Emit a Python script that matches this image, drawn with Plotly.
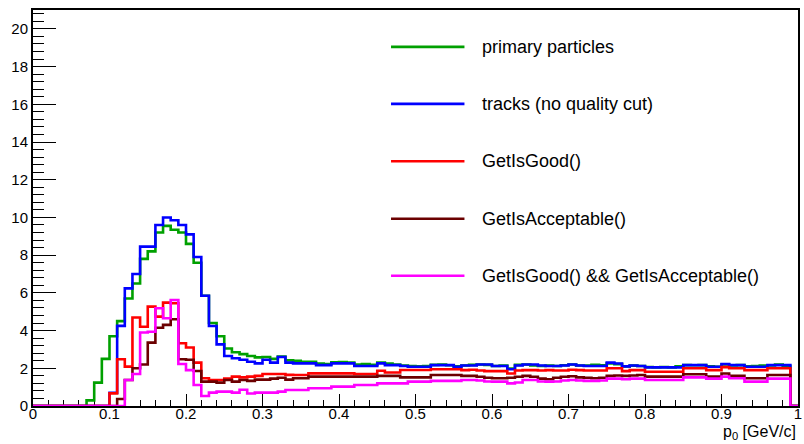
import plotly.graph_objects as go

# Momentum binning: 100 bins of 0.01 GeV/c from 0 to 1
bin_width = 0.01
n_bins = 100
bin_edges = [round(i * bin_width, 4) for i in range(n_bins + 1)]

primary = [
    0, 0, 0, 0, 0, 0, 0, 0.3, 1.24, 2.5,
    3.7, 4.5, 5.7, 6.5, 7.8, 8.2, 9.2, 9.55, 9.35, 9.2,
    8.6, 7.6, 5.85, 4.4, 3.7, 3.05, 2.85, 2.75, 2.65, 2.58,
    2.6, 2.5, 2.62, 2.42, 2.4, 2.35, 2.35, 2.25, 2.22, 2.32,
    2.33, 2.3, 2.2, 2.22, 2.18, 2.3, 2.25, 2.2, 2.14, 2.12,
    2.1, 2.12, 2.18, 2.2, 2.16, 2.1, 2.15, 2.18, 2.2, 2.18,
    2.12, 2.14, 1.98, 2.18, 2.2, 2.15, 2.12, 2.14, 2.12, 2.16,
    2.2, 2.15, 2.14, 2.18, 2.16, 2.26, 2.22, 2.1, 2.14, 2.12,
    2.06, 2.05, 2.06, 2.05, 2.1, 2.17, 2.16, 2.17, 2.1, 2.08,
    2.2, 2.15, 2.17, 2.1, 2.12, 2.14, 2.15, 2.2, 2.12, 0,
]

tracks = [
    0, 0, 0, 0, 0, 0, 0, 0, 0, 0,
    0.7, 4.25, 6.24, 7.0, 8.45, 8.45, 9.6, 10.0, 9.85, 9.6,
    9.1, 7.9, 5.85, 4.24, 3.27, 2.65, 2.53, 2.45, 2.35, 2.26,
    2.45, 2.3, 2.6, 2.3, 2.26, 2.26, 2.26, 2.17, 2.17, 2.26,
    2.26, 2.26, 2.12, 2.12, 2.12, 2.26, 2.17, 2.17, 2.12, 2.08,
    2.08, 2.08, 2.17, 2.17, 2.17, 2.08, 2.15, 2.15, 2.2, 2.2,
    2.12, 2.12, 1.95, 2.15, 2.2, 2.2, 2.15, 2.12, 2.12, 2.15,
    2.2, 2.15, 2.12, 2.12, 2.12, 2.3, 2.25, 2.1, 2.15, 2.12,
    2.05, 2.05, 2.05, 2.05, 2.05, 2.17, 2.17, 2.17, 2.08, 2.08,
    2.23, 2.17, 2.17, 2.08, 2.08, 2.08, 2.17, 2.17, 2.17, 0,
]

is_good = [
    0, 0, 0, 0, 0, 0, 0, 0, 0, 0,
    0.67, 2.48, 2.09, 4.69, 4.2, 5.27, 4.74, 5.48, 5.45, 3.33,
    3.1, 2.3, 1.47, 1.38, 1.38, 1.45, 1.56, 1.52, 1.56, 1.6,
    1.7, 1.7, 1.7, 1.65, 1.64, 1.64, 1.73, 1.73, 1.73, 1.73,
    1.73, 1.73, 1.7, 1.7, 1.7, 1.87, 1.78, 1.78, 1.91, 1.91,
    1.91, 1.91, 1.95, 1.95, 1.95, 1.95, 1.9, 1.92, 1.88, 1.85,
    1.85, 1.85, 1.72, 1.88, 1.9, 1.9, 1.88, 1.9, 1.88, 1.88,
    1.92, 1.9, 1.88, 1.88, 1.88, 2.0, 2.0, 1.85, 1.9, 1.9,
    1.82, 1.82, 1.82, 1.82, 1.82, 2.0, 2.0, 2.0, 1.9, 1.9,
    2.06, 2.0, 2.0, 1.9, 1.9, 1.9, 2.0, 2.0, 2.0, 0,
]

is_acceptable = [
    0, 0, 0, 0, 0, 0, 0, 0, 0, 0,
    0, 0.37, 1.38, 2.0, 2.2, 3.36, 4.15, 4.3, 4.6, 2.48,
    2.45, 1.86, 1.29, 1.29, 1.24, 1.38, 1.29, 1.38, 1.33, 1.4,
    1.4, 1.45, 1.5, 1.4, 1.47, 1.47, 1.56, 1.56, 1.56, 1.56,
    1.56, 1.56, 1.56, 1.56, 1.56, 1.6, 1.6, 1.6, 1.52, 1.52,
    1.52, 1.52, 1.64, 1.64, 1.64, 1.64, 1.6, 1.6, 1.55, 1.5,
    1.47, 1.47, 1.5, 1.55, 1.6, 1.55, 1.45, 1.42, 1.5, 1.55,
    1.58, 1.52, 1.5, 1.47, 1.5, 1.6, 1.62, 1.6, 1.62, 1.64,
    1.56, 1.56, 1.56, 1.56, 1.56, 1.68, 1.68, 1.68, 1.56, 1.56,
    1.72, 1.6, 1.6, 1.47, 1.47, 1.47, 1.64, 1.64, 1.64, 0,
]

good_and_acceptable = [
    0, 0, 0, 0, 0, 0, 0, 0, 0, 0,
    0, 0, 1.38, 1.7, 3.9, 3.94, 5.18, 4.65, 5.62, 2.23,
    1.9, 1.11, 0.53, 0.71, 0.76, 0.76, 0.71, 0.86, 0.66, 0.71,
    0.71, 0.71, 0.76, 0.85, 0.85, 0.85, 0.94, 0.94, 0.94, 1.03,
    1.03, 1.03, 1.11, 1.11, 1.11, 1.2, 1.2, 1.2, 1.2, 1.29,
    1.29, 1.29, 1.33, 1.33, 1.33, 1.33, 1.38, 1.38, 1.35, 1.3,
    1.29, 1.29, 1.2, 1.25, 1.38, 1.38, 1.3, 1.29, 1.3, 1.35,
    1.38, 1.35, 1.33, 1.33, 1.35, 1.45, 1.45, 1.42, 1.45, 1.45,
    1.38, 1.38, 1.38, 1.38, 1.38, 1.52, 1.52, 1.52, 1.45, 1.45,
    1.56, 1.47, 1.47, 1.29, 1.29, 1.29, 1.45, 1.45, 1.45, 0,
]

series_labels = [
    "primary particles",
    "tracks (no quality cut)",
    "GetIsGood()",
    "GetIsAcceptable()",
    "GetIsGood() && GetIsAcceptable()",
]
series_values = [primary, tracks, is_good, is_acceptable, good_and_acceptable]
series_colors = ["#00a000", "#0000ff", "#ff0000", "#6b0000", "#ff00ff"]

x_tick_vals = [i / 10 for i in range(11)]
x_tick_text = ["0", "0.1", "0.2", "0.3", "0.4", "0.5", "0.6", "0.7", "0.8", "0.9", "1"]
y_tick_vals = list(range(0, 21, 2))

FONT = "Liberation Sans, Arial, Helvetica, sans-serif"

fig = go.Figure()
for name, vals, col in zip(series_labels, series_values, series_colors):
    fig.add_trace(go.Scatter(
        x=bin_edges,
        y=list(vals) + [vals[-1]],
        mode="lines",
        line=dict(shape="hv", color=col, width=2.6),
        name=name,
        showlegend=False,
        hoverinfo="skip",
    ))

# Legend drawn as line samples plus labels
row_y = [0.907, 0.763, 0.618, 0.473, 0.329]
for name, col, yy in zip(series_labels, series_colors, row_y):
    fig.add_shape(type="line", xref="paper", yref="paper",
                  x0=0.468, x1=0.564, y0=yy, y1=yy,
                  line=dict(color=col, width=2.6))
    fig.add_annotation(xref="paper", yref="paper", x=0.584, y=yy,
                       text=name, showarrow=False, xanchor="left",
                       yanchor="middle",
                       font=dict(family=FONT, size=18, color="black"))

# Axis title
fig.add_annotation(xref="paper", yref="paper", x=1.0, y=-0.066,
                   text="p<sub>0</sub> [GeV/c]", showarrow=False,
                   xanchor="right", yanchor="middle",
                   font=dict(family=FONT, size=16, color="black"))

fig.update_xaxes(
    range=[0, 1], tickvals=x_tick_vals, ticktext=x_tick_text,
    ticks="inside", ticklen=12, tickwidth=1, tickcolor="black",
    minor=dict(dtick=0.02, ticks="inside", ticklen=6, tickwidth=1,
               tickcolor="black"),
    showline=True, linecolor="black", linewidth=2, mirror=True,
    showgrid=False, zeroline=False, layer="below traces",
    tickfont=dict(family=FONT, size=15, color="black"),
    ticklabelstandoff=-7, ticklabeloverflow="allow",
)
fig.update_yaxes(
    range=[0, 21], tickvals=y_tick_vals,
    ticks="inside", ticklen=23, tickwidth=1, tickcolor="black",
    minor=dict(dtick=0.4, ticks="inside", ticklen=11, tickwidth=1,
               tickcolor="black"),
    showline=True, linecolor="black", linewidth=2, mirror=True,
    showgrid=False, zeroline=False, layer="below traces",
    tickfont=dict(family=FONT, size=15, color="black"),
)

fig.update_layout(
    width=804, height=444,
    margin=dict(l=33, r=2, t=10, b=38),
    paper_bgcolor="white", plot_bgcolor="white",
    font=dict(family=FONT, color="black"),
)

fig.write_html("out.html")
